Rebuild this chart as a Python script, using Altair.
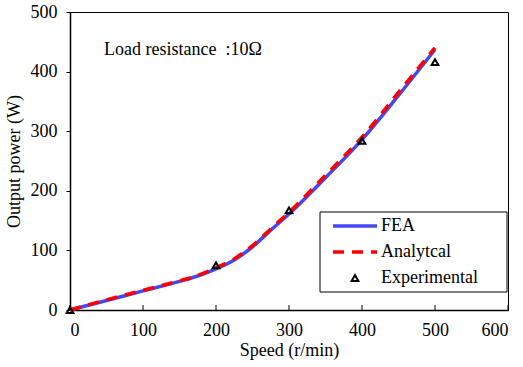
import altair as alt
import pandas as pd

speed_curve = [0, 50, 100, 150, 175, 200, 225, 250, 275, 300, 350, 400, 450, 500]
fea_power = [0, 16, 32, 48, 57, 69, 84, 106, 134, 161, 222, 286, 360, 437]
ana_power = [0, 17, 33, 49, 58, 71, 86, 108, 136, 164, 226, 290, 365, 440]
exp_speed = [0, 200, 300, 400, 500]
exp_power = [0, 75, 167, 284, 416]
x_ticks = [0, 100, 200, 300, 400, 500, 600]

FONT = "Times New Roman, Liberation Serif, serif"
FS = 18
W, H = 438, 298

df = pd.DataFrame({
    "speed": speed_curve * 2,
    "power": fea_power + ana_power,
    "series": ["FEA"] * len(speed_curve) + ["Analytcal"] * len(speed_curve),
})
df_exp = pd.DataFrame({"speed": exp_speed, "power": exp_power})
df_ticks = pd.DataFrame({"speed": x_ticks})

xs = alt.Scale(domain=[0, 600], nice=False)
ys = alt.Scale(domain=[0, 500], nice=False)

xaxis = alt.Axis(values=x_ticks, tickSize=0, labelPadding=11, grid=False,
                 title="Speed (r/min)", titlePadding=2)
yaxis = alt.Axis(values=list(range(0, 501, 50)), tickSize=4, labelPadding=9, grid=False,
                 title="Output power (W)", titlePadding=7)

fea = alt.Chart(df[df.series == "FEA"]).mark_line(
    color="#4646F5", strokeWidth=3.5, interpolate="monotone"
).encode(
    x=alt.X("speed:Q", scale=xs, axis=xaxis),
    y=alt.Y("power:Q", scale=ys, axis=yaxis),
)
ana = alt.Chart(df[df.series == "Analytcal"]).mark_line(
    color="#FF0000", strokeWidth=3.5, strokeDash=[11, 8], interpolate="monotone"
).encode(x=alt.X("speed:Q", scale=xs), y=alt.Y("power:Q", scale=ys))

exp = alt.Chart(df_exp).mark_point(
    shape="triangle-up", filled=False, color="black", strokeWidth=2, size=45, opacity=1
).encode(x=alt.X("speed:Q", scale=xs), y=alt.Y("power:Q", scale=ys))

xticks_in = alt.Chart(df_ticks).mark_rule(color="black", strokeWidth=1).encode(
    x=alt.X("speed:Q", scale=xs),
    y=alt.value(H),
    y2=alt.value(H - 5),
)

one = pd.DataFrame({"a": [0]})
note = alt.Chart(one).mark_text(
    text="Load resistance\u00a0\u00a0:10Ω", font=FONT, fontSize=FS, align="left", baseline="middle", color="black"
).encode(x=alt.value(34), y=alt.value(38))

box = alt.Chart(one).mark_rect(fill="white", stroke="black", strokeWidth=1).encode(
    x=alt.value(250), x2=alt.value(437), y=alt.value(200), y2=alt.value(280)
)
leg_fea = alt.Chart(one).mark_rule(color="#4646F5", strokeWidth=3.5).encode(
    x=alt.value(263), x2=alt.value(307), y=alt.value(214)
)
leg_ana = alt.Chart(one).mark_rule(color="#FF0000", strokeWidth=3.5, strokeDash=[11, 8]).encode(
    x=alt.value(263), x2=alt.value(307), y=alt.value(240)
)
leg_exp = alt.Chart(one).mark_point(
    shape="triangle-up", filled=False, color="black", strokeWidth=2, size=45, opacity=1
).encode(x=alt.value(285), y=alt.value(266))
leg_text = alt.Chart(pd.DataFrame({"t": ["FEA", "Analytcal", "Experimental"], "y": [214, 240, 266]})).mark_text(
    font=FONT, fontSize=FS, align="left", baseline="middle", color="black"
).encode(x=alt.value(311), y=alt.Y("y:Q", scale=None), text="t:N")

chart = alt.layer(
    fea, ana, exp, xticks_in, note, box, leg_fea, leg_ana, leg_exp, leg_text
).properties(
    width=W, height=H,
    autosize=alt.AutoSizeParams(type="none"),
    padding={"left": 70, "top": 12, "right": 15, "bottom": 57},
    background="white",
).configure_view(
    stroke="black", strokeWidth=1
).configure_axis(
    labelFont=FONT, titleFont=FONT, labelFontSize=FS, titleFontSize=FS,
    labelColor="black", titleColor="black", domainColor="black", tickColor="black",
    titleFontWeight="normal", domainWidth=1.5,
).configure_text(font=FONT)

chart.save("out.html", embed_options={"renderer": "svg", "actions": False})
